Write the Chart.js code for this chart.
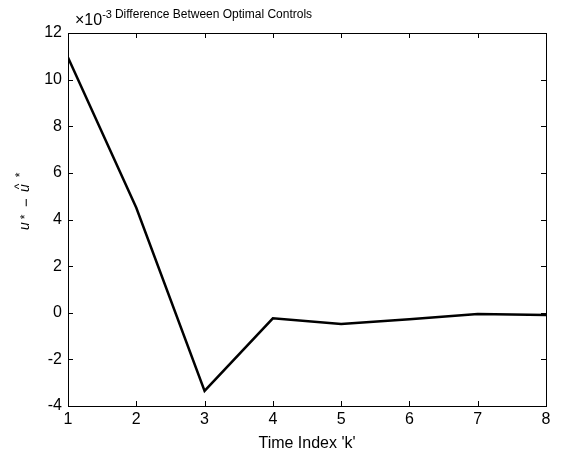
<!DOCTYPE html>
<html>
<head>
<meta charset="utf-8">
<script src="https://cdn.jsdelivr.net/npm/chart.js@4/dist/chart.umd.min.js"></script>
<style>
html,body{margin:0;padding:0;background:#fff;}
#wrap{width:561px;height:460px;position:relative;}
</style>
</head>
<body>
<div id="wrap"><canvas id="c" width="561" height="460"></canvas></div>
<script>
const timeIndex = [1, 2, 3, 4, 5, 6, 7, 8];
const controlDiff = [10.95, 4.5, -3.35, -0.24, -0.48, -0.28, -0.05, -0.1]; // ×10^-3
const yTicks = [-4, -2, 0, 2, 4, 6, 8, 10, 12];
const xTicks = [1, 2, 3, 4, 5, 6, 7, 8];
const titleText = 'Difference Between Optimal Controls';
const xLabel = "Time Index 'k'";

const FONT = '"Liberation Sans", Arial, Helvetica, sans-serif';

const boxPlugin = {
  id: 'box',
  afterDraw(chart) {
    const {ctx, chartArea: a, scales} = chart;
    const xs = scales.x, ys = scales.y;
    ctx.save();
    ctx.strokeStyle = '#000';
    ctx.lineWidth = 1;
    ctx.strokeRect(a.left + 0.5, a.top + 0.5, a.right - a.left, a.bottom - a.top);
    const tl = 5;
    ctx.beginPath();
    xTicks.forEach(v => {
      const px = Math.round(xs.getPixelForValue(v)) + 0.5;
      ctx.moveTo(px, a.bottom); ctx.lineTo(px, a.bottom - tl);
      ctx.moveTo(px, a.top); ctx.lineTo(px, a.top + tl);
    });
    yTicks.forEach(v => {
      const py = Math.round(ys.getPixelForValue(v)) + 0.5;
      ctx.moveTo(a.left, py); ctx.lineTo(a.left + tl, py);
      ctx.moveTo(a.right, py); ctx.lineTo(a.right - tl, py);
    });
    ctx.stroke();

    // exponent label and title
    ctx.fillStyle = '#000';
    ctx.textBaseline = 'alphabetic';
    ctx.textAlign = 'left';
    ctx.font = '16px ' + FONT;
    ctx.fillText('\u00d710', a.left + 7, a.top - 8);
    const w10 = ctx.measureText('\u00d710').width;
    ctx.font = '11px ' + FONT;
    ctx.fillText('-3', a.left + 7 + w10, a.top - 15);
    const w3 = ctx.measureText('-3').width;
    ctx.font = '12px ' + FONT;
    ctx.fillText(titleText, a.left + 7 + w10 + w3 + 3, a.top - 15);

    // x label
    ctx.font = '16px ' + FONT;
    ctx.textAlign = 'center';
    ctx.fillText(xLabel, (a.left + a.right) / 2, a.bottom + 42);

    // y label: u* − û*  (rotated)
    ctx.translate(29, 202);
    ctx.rotate(-Math.PI / 2);
    ctx.textAlign = 'center';
    ctx.textBaseline = 'alphabetic';
    ctx.font = 'italic 14px ' + FONT;
    ctx.fillText('u', -24, 0);
    ctx.fillText('u', 14, 0);
    ctx.font = '12px ' + FONT;
    ctx.fillText('*', -15, 0);
    ctx.fillText('*', 27, -5);
    ctx.font = '15px ' + FONT;
    ctx.fillText('\u2212', -0.5, 2);
    ctx.font = '12px ' + FONT;
    ctx.fillText('^', 15.5, -6);
    ctx.restore();
  }
};

new Chart(document.getElementById('c'), {
  type: 'line',
  data: {
    datasets: [{
      data: timeIndex.map((k, i) => ({x: k, y: controlDiff[i]})),
      borderColor: '#000',
      borderWidth: 2.5,
      pointRadius: 0,
      tension: 0,
      fill: false
    }]
  },
  options: {
    responsive: false,
    animation: false,
    events: [],
    layout: {padding: {left: 0, right: 15, top: 33, bottom: 0}},
    plugins: {legend: {display: false}, tooltip: {enabled: false}, title: {display: false}},
    scales: {
      x: {
        type: 'linear', min: 1, max: 8,
        afterBuildTicks: s => { s.ticks = xTicks.map(v => ({value: v})); },
        afterFit: s => { s.height = 54; },
        grid: {display: false, drawTicks: false},
        border: {display: false},
        ticks: {color: '#000', font: {family: FONT, size: 16}, padding: 4, maxRotation: 0}
      },
      y: {
        type: 'linear', min: -4, max: 12,
        afterBuildTicks: s => { s.ticks = yTicks.map(v => ({value: v})); },
        afterFit: s => { s.width = 68; },
        grid: {display: false, drawTicks: false},
        border: {display: false},
        ticks: {color: '#000', font: {family: FONT, size: 16}, padding: 6}
      }
    }
  },
  plugins: [boxPlugin]
});
</script>
</body>
</html>
